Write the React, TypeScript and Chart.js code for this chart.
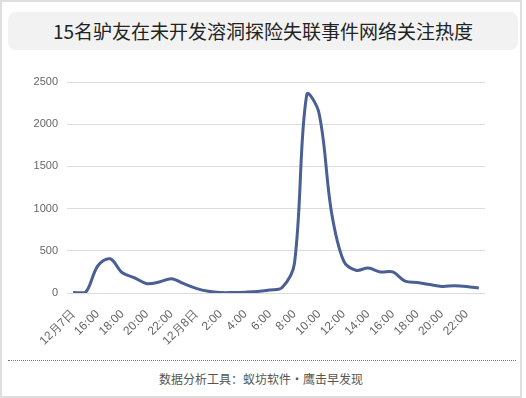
import React, { useEffect, useRef } from "react";
import { Chart, registerables } from "chart.js";

Chart.register(...registerables);

const hours: string[] = [
  "12月7日 14:00", "15:00", "16:00", "17:00", "18:00", "19:00", "20:00", "21:00", "22:00", "23:00",
  "12月8日 0:00", "1:00", "2:00", "3:00", "4:00", "5:00", "6:00", "7:00", "8:00", "9:00",
  "10:00", "11:00", "12:00", "13:00", "14:00", "15:00", "16:00", "17:00", "18:00", "19:00",
  "20:00", "21:00", "22:00", "23:00",
];

const tickLabels: string[] = [
  "12月7日", "", "16:00", "", "18:00", "", "20:00", "", "22:00", "",
  "12月8日", "", "2:00", "", "4:00", "", "6:00", "", "8:00", "",
  "10:00", "", "12:00", "", "14:00", "", "16:00", "", "18:00", "",
  "20:00", "", "22:00", "",
];

const heat: number[] = [
  5, 5, 320, 405, 240, 180, 110, 130, 170, 110,
  55, 20, 5, 5, 10, 18, 35, 65, 350, 2350,
  2130, 970, 380, 270, 295, 250, 250, 140, 125, 100,
  78, 86, 78, 59,
];

const yTicks: number[] = [0, 500, 1000, 1500, 2000, 2500];

export default function App() {
  const ref = useRef<HTMLCanvasElement | null>(null);

  useEffect(() => {
    if (!ref.current) return;
    const chart = new Chart(ref.current, {
      type: "line",
      data: {
        labels: hours,
        datasets: [
          {
            data: heat,
            borderColor: "#4a5f94",
            borderWidth: 3,
            pointRadius: 0,
            tension: 0.35,
            fill: false,
          },
        ],
      },
      options: {
        animation: false,
        responsive: false,
        maintainAspectRatio: false,
        layout: { padding: { top: 22, right: 35, bottom: 0, left: 0 } },
        plugins: { legend: { display: false }, tooltip: { enabled: false } },
        scales: {
          x: {
            offset: true,
            grid: { display: false },
            border: { display: false },
            ticks: {
              autoSkip: false,
              maxRotation: 45,
              minRotation: 45,
              padding: 6,
              color: "#666",
              font: { size: 12, family: "'Liberation Sans', Arial, sans-serif" },
              callback: (_v: any, i: number) => tickLabels[i],
            },
            afterFit: (s: any) => {
              s.height = 57;
            },
          },
          y: {
            min: yTicks[0],
            max: yTicks[yTicks.length - 1],
            afterBuildTicks: (s: any) => {
              s.ticks = yTicks.map((v) => ({ value: v }));
            },
            grid: { color: "#dcdcdc", drawTicks: false, lineWidth: 1 },
            border: { display: false },
            ticks: {
              padding: 9,
              color: "#666",
              font: { size: 11, family: "'Liberation Sans', Arial, sans-serif" },
              callback: (v: any) => String(v),
            },
            afterFit: (s: any) => {
              s.width = 67;
            },
          },
        },
      },
    });
    return () => chart.destroy();
  }, []);

  return (
    <div
      style={{
        position: "absolute",
        left: 0,
        top: 0,
        width: 522,
        height: 398,
        boxSizing: "border-box",
        border: "2px solid #dedede",
        background: "#fff",
        fontFamily: "'Noto Sans CJK SC', sans-serif",
      }}
    >
      <div
        style={{
          position: "absolute",
          left: 6,
          top: 10,
          width: 510,
          height: 38,
          borderRadius: 8,
          background: "#f2f2f2",
          color: "#222",
          fontSize: 19,
          lineHeight: "38px",
          textAlign: "center",
        }}
      >
        15名驴友在未开发溶洞探险失联事件网络关注热度
      </div>
      <canvas
        ref={ref}
        width={520}
        height={290}
        style={{ position: "absolute", left: -2, top: 58, width: 520, height: 290 }}
      />
      <div
        style={{
          position: "absolute",
          left: 6,
          top: 358,
          width: 508,
          borderTop: "1px dotted #777",
        }}
      />
      <div
        style={{
          position: "absolute",
          left: 0,
          top: 368,
          width: 518,
          textAlign: "center",
          fontSize: 12,
          lineHeight: "18px",
          color: "#555",
        }}
      >
        数据分析工具：蚁坊软件·鹰击早发现
      </div>
    </div>
  );
}
